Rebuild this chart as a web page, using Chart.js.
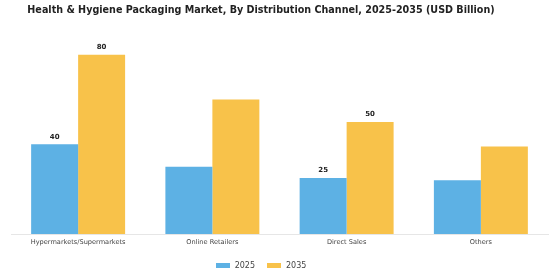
<!DOCTYPE html>
<html>
<head>
<meta charset="utf-8">
<script src="https://cdn.jsdelivr.net/npm/chart.js@4"></script>
<style>
  html, body { margin: 0; padding: 0; background: #fff; }
  #wrap { position: relative; width: 560px; height: 280px; font-family: "DejaVu Sans", sans-serif; }
  #title { position: absolute; top: 4px; left: 0; width: 522px; text-align: center;
           font-size: 9.6px; font-weight: bold; color: #222; white-space: nowrap; }
  #legend { position: absolute; top: 261px; left: 0; width: 522px; text-align: center;
            font-size: 8px; color: #444; }
  #legend span.item { display: inline-block; margin: 0 6px; }
  #legend span.box { display: inline-block; width: 14px; height: 5px; margin-right: 5px; vertical-align: middle; }
  canvas { position: absolute; left: 0; top: 0; }
</style>
</head>
<body>
<div id="wrap">
  <canvas id="chart" width="560" height="280"></canvas>
  <div id="title">Health &amp; Hygiene Packaging Market, By Distribution Channel, 2025-2035 (USD Billion)</div>
  <div id="legend"></div>
</div>
<script>
// Values (USD billion).
const categories = ["Hypermarkets/Supermarkets", "Online Retailers", "Direct Sales", "Others"];
const years = ["2025", "2035"];
const values2025 = [40, 30, 25, 24];
const values2035 = [80, 60, 50, 39];
// Only some bars carry a printed value in the original.
const labels2025 = [true, false, true, false];
const labels2035 = [true, false, true, false];

const BLUE = "#5DB1E4";
const YELLOW = "#F8C24A";

// Small value labels above flagged bars.
const valueLabels = {
    id: "valueLabels",
    afterDatasetsDraw(chart) {
        const flags = [labels2025, labels2035];
        const { ctx } = chart;
        ctx.save();
        ctx.font = "bold 7px 'DejaVu Sans', sans-serif";
        ctx.fillStyle = "#222";
        ctx.textAlign = "center";
        ctx.textBaseline = "bottom";
        chart.data.datasets.forEach((ds, di) => {
            chart.getDatasetMeta(di).data.forEach((bar, i) => {
                if (!flags[di][i]) return;
                ctx.fillText(String(ds.data[i]), bar.x, bar.y - 4);
            });
        });
        ctx.restore();
    },
};

const chart = new Chart(document.getElementById("chart").getContext("2d"), {
    type: "bar",
    data: {
        labels: categories,
        datasets: [
            { label: years[0], data: values2025, backgroundColor: BLUE },
            { label: years[1], data: values2035, backgroundColor: YELLOW },
        ],
    },
    options: {
        responsive: false,
        animation: false,
        layout: { padding: { top: 30, left: 11, right: 12, bottom: 30 } },
        datasets: { bar: { categoryPercentage: 0.7, barPercentage: 1.0 } },
        plugins: {
            legend: { display: false },
            title: { display: false },
            tooltip: { enabled: false },
        },
        scales: {
            x: {
                grid: { display: false, drawTicks: false, tickLength: 0 },
                border: { display: true, color: "#e6e6e6" },
                ticks: { color: "#444", padding: 4, font: { family: "'DejaVu Sans', sans-serif", size: 6.6 } },
            },
            y: { display: false, beginAtZero: true, min: 0, max: 91 },
        },
    },
    plugins: [valueLabels],
});

// Plain HTML legend built from the datasets.
const legendEl = document.getElementById("legend");
chart.data.datasets.forEach((ds) => {
    const item = document.createElement("span");
    item.className = "item";
    const box = document.createElement("span");
    box.className = "box";
    box.style.background = ds.backgroundColor;
    item.appendChild(box);
    item.appendChild(document.createTextNode(ds.label));
    legendEl.appendChild(item);
});
</script>
</body>
</html>
